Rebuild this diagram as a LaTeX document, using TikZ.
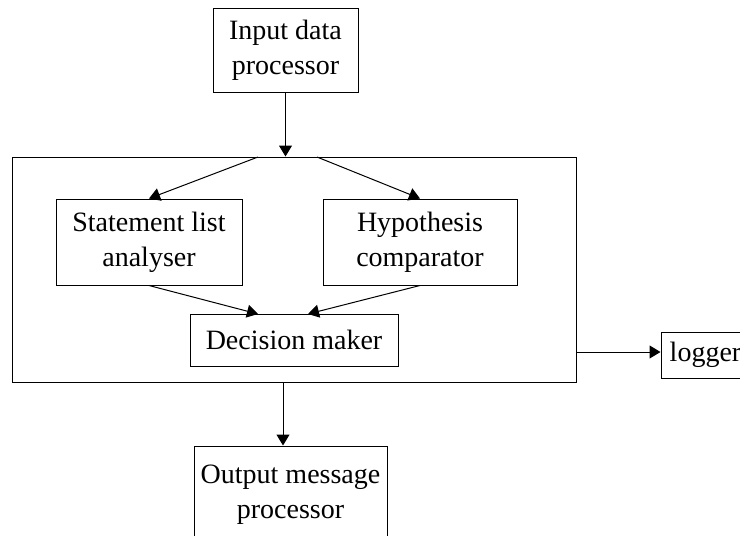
\documentclass[tikz,border=0pt]{standalone}
\usepackage{fontspec}
\setmainfont{Liberation Serif}
\usetikzlibrary{arrows.meta}
\begin{document}
\begin{tikzpicture}[x=0.5pt,y=-0.5pt,
	blk/.style={draw,line width=0.5pt,align=center,inner sep=0pt,font=\fontsize{14}{17.5}\selectfont},
	link/.style={line width=0.5pt,-{Triangle[length=5.5pt,width=6.5pt]}}]
	\useasboundingbox (0,0) rectangle (740,536);
	\clip (0,0) rectangle (740,536);

	\node[blk,minimum width=72.5pt,minimum height=42pt] at (285.5, 50)  (inp)  {Input data\\processor};
	\node[blk,minimum width=282pt,minimum height=112.5pt] at (294, 269.5) (main) {};
	\node[blk,minimum width=93pt,minimum height=43pt] at (149, 242)  (stmt) {Statement list\\analyser};
	\node[blk,minimum width=97pt,minimum height=43pt] at (420, 242)  (hyp)  {Hypothesis\\comparator};
	\node[blk,minimum width=104pt,minimum height=26pt] at (294, 340)  (dec)  {Decision maker};
	\node[blk,minimum width=44.5pt,minimum height=23pt] at (705.5, 355) (log) {logger};
	\node[blk,minimum width=96.5pt,minimum height=49pt] at (290.5, 495) (out) {Output message\\processor};

	\coordinate (sl) at (258, 157);
	\coordinate (sr) at (317, 157);
	\coordinate (dl) at (258, 314);
	\coordinate (dr) at (308, 314);
	\coordinate (lo) at (576, 352);
	\coordinate (ob) at (283, 382);

	\draw[link] (inp.south) -- (inp.south |- main.north);
	\draw[link] (sl) -- (stmt.north);
	\draw[link] (sr) -- (hyp.north);
	\draw[link] (stmt.south) -- (dl);
	\draw[link] (hyp.south) -- (dr);
	\draw[link] (lo) -- (lo -| log.west);
	\draw[link] (ob) -- (ob |- out.north);
\end{tikzpicture}
\end{document}
